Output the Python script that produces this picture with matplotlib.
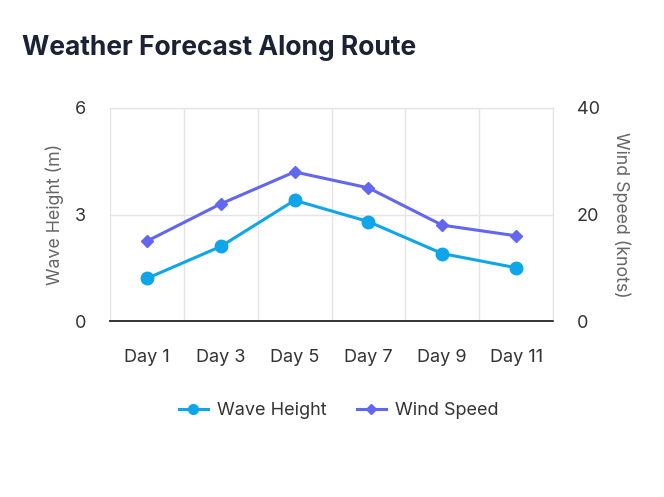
import numpy as np
import matplotlib.pyplot as plt
from matplotlib.lines import Line2D

plt.rcParams['font.family'] = ['Inter', 'DejaVu Sans']

days = ['Day 1', 'Day 3', 'Day 5', 'Day 7', 'Day 9', 'Day 11']
wave_height = [1.2, 2.1, 3.4, 2.8, 1.9, 1.5]
wind_speed = [15, 22, 28, 25, 18, 16]

wave_color = '#0ea5e9'
wind_color = '#6366f1'
grid_color = '#e5e5e5'
text_color = '#333333'
label_color = '#666666'

fig = plt.figure(figsize=(6.64, 4.97), dpi=100)
ax = fig.add_axes([0.1657, 0.3541, 0.6671, 0.4286])
ax2 = ax.twinx()

x = np.arange(len(days))
ax.plot(x, wave_height, color=wave_color, lw=2.2, marker='o', ms=9, zorder=3)
ax2.plot(x, wind_speed, color=wind_color, lw=2.2, marker='D', ms=6.3, zorder=3)

ax.set_xlim(-0.5, len(days) - 0.5)
ax.set_ylim(0, 6)
ax2.set_ylim(0, 40)
ax.set_yticks([0, 3, 6])
ax2.set_yticks([0, 20, 40])
ax.set_xticks(x)
ax.set_xticklabels(days)
ax.set_xticks(np.arange(-0.5, len(days), 1), minor=True)

ax.grid(True, which='minor', axis='x', color=grid_color, lw=1)
ax.grid(True, which='major', axis='y', color=grid_color, lw=1)
ax.set_axisbelow(True)

for a in (ax, ax2):
    a.spines['left'].set_visible(False)
    a.spines['right'].set_color(grid_color)
    a.spines['top'].set_color(grid_color)
    a.spines['bottom'].set_color('#333333')
    a.spines['bottom'].set_linewidth(1.2)
    a.tick_params(which='both', length=0, labelsize=13, labelcolor=text_color)
ax.tick_params(axis='x', pad=20)
ax.tick_params(axis='y', pad=17)
ax2.tick_params(axis='y', pad=17)

ax.set_ylabel('Wave Height (m)', fontsize=12.8, color=label_color, labelpad=8)
ax2.set_ylabel('Wind Speed (knots)', fontsize=12.8, color=label_color, rotation=270, labelpad=22)

fig.text(0.033, 0.903, 'Weather Forecast Along Route', fontsize=19, fontweight='bold',
         color='#1a2233', va='center', ha='left')

handles = [
    Line2D([0], [0], color=wave_color, lw=2.2, marker='o', ms=7),
    Line2D([0], [0], color=wind_color, lw=2.2, marker='D', ms=5),
]
fig.legend(handles, ['Wave Height', 'Wind Speed'], loc='center', bbox_to_anchor=(0.51, 0.174),
           ncol=2, frameon=False, fontsize=13, handlelength=1.6, columnspacing=1.7,
           handletextpad=0.5, labelcolor=text_color)

fig.savefig('out.png', dpi=100)
